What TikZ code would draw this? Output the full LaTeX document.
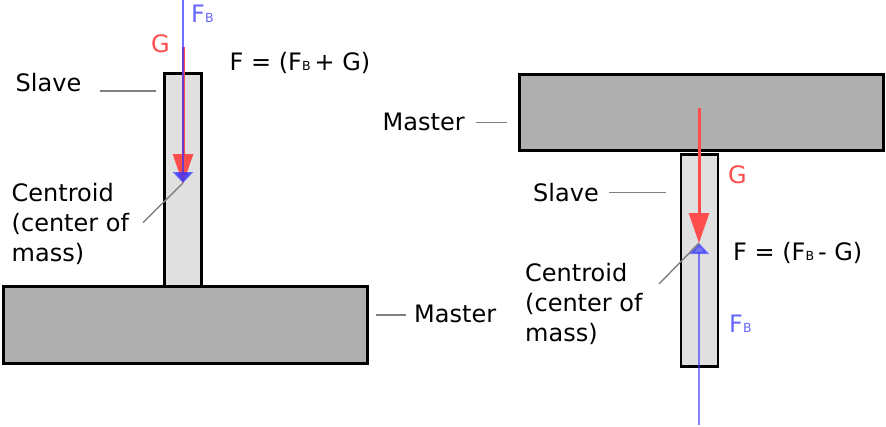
\documentclass[tikz,border=0pt]{standalone}
\usepackage{fontspec}
\setmainfont{DejaVu Sans}
\usetikzlibrary{arrows.meta}
\definecolor{redc}{HTML}{FF4D4D}
\definecolor{bluec}{HTML}{3333FF}
\definecolor{bluetext}{HTML}{6666FF}
\definecolor{mastergray}{HTML}{AFAFAF}
\definecolor{slavegray}{HTML}{E0E0E0}
\definecolor{leadgray}{HTML}{808080}
\newcommand{\subB}{{\fontsize{12.5}{12.5}\selectfont B}}
\begin{document}
\begin{tikzpicture}[x=1pt,y=-1pt,
  lbl/.style={anchor=base west, inner sep=0pt, font=\fontsize{24}{30}\selectfont},
  master/.style={draw=black, fill=mastergray, line width=3pt, inner sep=0pt, minimum width=364pt, rectangle},
  slave/.style={draw=black, fill=slavegray, line width=2.6pt, inner sep=0pt, minimum width=37pt, rectangle},
  leader/.style={draw=leadgray, line width=1.4pt},
  garrow/.style={draw=redc, line width=3pt, -{Triangle[length=30pt,width=20pt]}},
  barrow/.style={draw=bluec, opacity=0.6, line width=2.2pt, -{Triangle[length=11pt,width=20pt]}}]
\useasboundingbox (0,0) rectangle (886,426);
% ---------- left ----------
\node[slave, minimum height=213pt] (lslave) at (183,180) {};
\node[master, minimum height=77pt] (lmaster) at (185.3,325) {};
\coordinate (lgs) at (183,47);
\coordinate (lc) at (183,183);
\coordinate (lbs) at (183,0);
\draw[garrow, shorten >=-1pt] (lgs) -- (lc);
\draw[barrow, line width=2.6pt, opacity=0.7] (lbs) -- (lc);
\node[lbl, text=redc] (lG) at (151,52) {G};
\node[lbl, text=bluetext] (lFB) at (191,22) {F\subB};
\node[lbl] (lF) at (229.5,70.5) {F = (F\subB\,+ G)};
\node[lbl] (lslavet) at (15.5,91) {Slave};
\coordinate (lsl1) at (100,91);
\coordinate (lsl2) at (156,91);
\draw[leader] (lsl1) -- (lsl2);
\node[lbl] (lmastert) at (414,322) {Master};
\coordinate (lml1) at (376,315);
\coordinate (lml2) at (406,315);
\draw[leader] (lml1) -- (lml2);
\node[lbl] (lcen1) at (11.5,201.5) {Centroid};
\node[lbl] (lcen2) at (11.5,231.5) {(center of};
\node[lbl] (lcen3) at (11.5,261.5) {mass)};
\coordinate (lcl) at (143,222.5);
\draw[leader] (lcl) -- (lc);
% ---------- right ----------
\node[master, minimum height=75.5pt] (rmaster) at (701.3,112.5) {};
\node[slave, minimum height=212pt] (rslave) at (699.6,260.7) {};
\coordinate (rgs) at (699,108);
\coordinate (rc) at (699,243);
\coordinate (rbs) at (699,425);
\draw[garrow] (rgs) -- (rc);
\draw[barrow] (rbs) -- (rc);
\node[lbl, text=redc] (rG) at (728,183.3) {G};
\node[lbl, text=bluetext] (rFB) at (729,332.7) {F\subB};
\node[lbl] (rF) at (733,260.7) {F = (F\subB\,- G)};
\node[lbl] (rmastert) at (382.5,130) {Master};
\coordinate (rml1) at (476,122.7);
\coordinate (rml2) at (507,122.7);
\draw[leader] (rml1) -- (rml2);
\node[lbl] (rslavet) at (533,201.7) {Slave};
\coordinate (rsl1) at (609,192.3);
\coordinate (rsl2) at (666,192.3);
\draw[leader] (rsl1) -- (rsl2);
\node[lbl] (rcen1) at (525,281.7) {Centroid};
\node[lbl] (rcen2) at (525,311.7) {(center of};
\node[lbl] (rcen3) at (525,341.7) {mass)};
\coordinate (rcl) at (659,284);
\draw[leader] (rcl) -- (rc);
\end{tikzpicture}
\end{document}
